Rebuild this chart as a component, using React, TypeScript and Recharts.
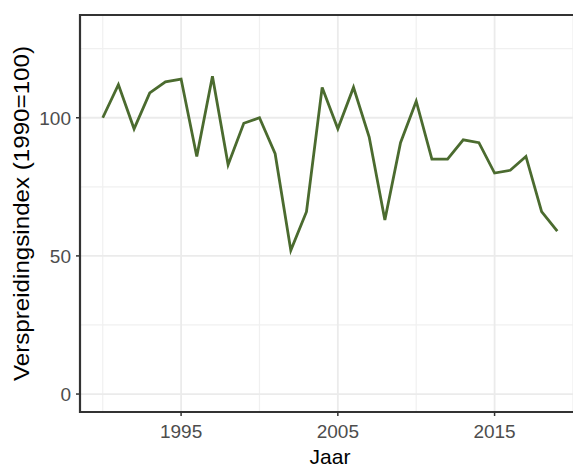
import { CartesianGrid, Line, LineChart, ReferenceArea, XAxis, YAxis } from "recharts";

// Verspreidingsindex per jaar (1990 = 100)
const years = [
  1990, 1991, 1992, 1993, 1994, 1995, 1996, 1997, 1998, 1999,
  2000, 2001, 2002, 2003, 2004, 2005, 2006, 2007, 2008, 2009,
  2010, 2011, 2012, 2013, 2014, 2015, 2016, 2017, 2018, 2019,
];
const indexValues = [
  100, 112, 96, 109, 113, 114, 86, 115, 83, 98,
  100, 87, 52, 66, 111, 96, 111, 93, 63, 91,
  106, 85, 85, 92, 91, 80, 81, 86, 66, 59,
];
const xTicks = [1995, 2005, 2015];
const yTicks = [0, 50, 100];
const xMinor = [1990, 2000, 2010, 2020];
const yMinor = [25, 75, 125];

const data = years.map((year, i) => ({ year, value: indexValues[i] }));

const X_DOMAIN: [number, number] = [1988.55, 2020.45];
const Y_DOMAIN: [number, number] = [-6.5, 137.2];
const FONT = "'Liberation Sans', Arial, sans-serif";

// rotated y title, a bit stretched like the original export
const YTitle = ({ viewBox }: any) => {
  const cx = viewBox.x + 21;
  const cy = viewBox.y + viewBox.height / 2;
  return (
    <text
      x={cx}
      y={cy}
      transform={`rotate(-90, ${cx}, ${cy})`}
      textAnchor="middle"
      dominantBaseline="central"
      fontFamily={FONT}
      fontSize={22}
      textLength={335}
      lengthAdjust="spacingAndGlyphs"
      fill="#000"
    >
      Verspreidingsindex (1990=100)
    </text>
  );
};

export default function App() {
  return (
    <div style={{ position: "absolute", left: 0, top: 0, width: 573, height: 468, overflow: "hidden", background: "#fff" }}>
      <LineChart width={600} height={468} data={data} margin={{ top: 15, right: 20, bottom: 0, left: 0 }}>
        <CartesianGrid horizontalValues={yMinor} verticalValues={xMinor} stroke="#f0f0f0" strokeWidth={1.2} />
        <CartesianGrid horizontalValues={yTicks} verticalValues={xTicks} stroke="#ebebeb" strokeWidth={1.8} />
        <XAxis
          type="number"
          dataKey="year"
          domain={X_DOMAIN}
          ticks={xTicks}
          allowDataOverflow
          height={56}
          axisLine={false}
          tickLine={{ stroke: "#333", strokeWidth: 1.5 }}
          tickSize={4}
          tickMargin={9}
          tick={{ fill: "#4d4d4d", fontSize: 19, fontFamily: FONT }}
          label={{ value: "Jaar", position: "insideBottom", offset: 4, fill: "#000", fontSize: 21, fontFamily: FONT }}
        />
        <YAxis
          type="number"
          domain={Y_DOMAIN}
          ticks={yTicks}
          allowDataOverflow
          width={80}
          axisLine={false}
          tickLine={{ stroke: "#333", strokeWidth: 1.5 }}
          tickSize={4}
          tickMargin={5}
          tick={{ fill: "#4d4d4d", fontSize: 19, fontFamily: FONT }}
          label={<YTitle />}
        />
        <ReferenceArea
          x1={X_DOMAIN[0]}
          x2={X_DOMAIN[1]}
          y1={Y_DOMAIN[0]}
          y2={Y_DOMAIN[1]}
          fill="none"
          fillOpacity={0}
          stroke="#333"
          strokeWidth={2.2}
          ifOverflow="visible"
        />
        <Line
          type="linear"
          dataKey="value"
          stroke="#4b6b2f"
          strokeWidth={2.8}
          dot={false}
          isAnimationActive={false}
        />
      </LineChart>
    </div>
  );
}
